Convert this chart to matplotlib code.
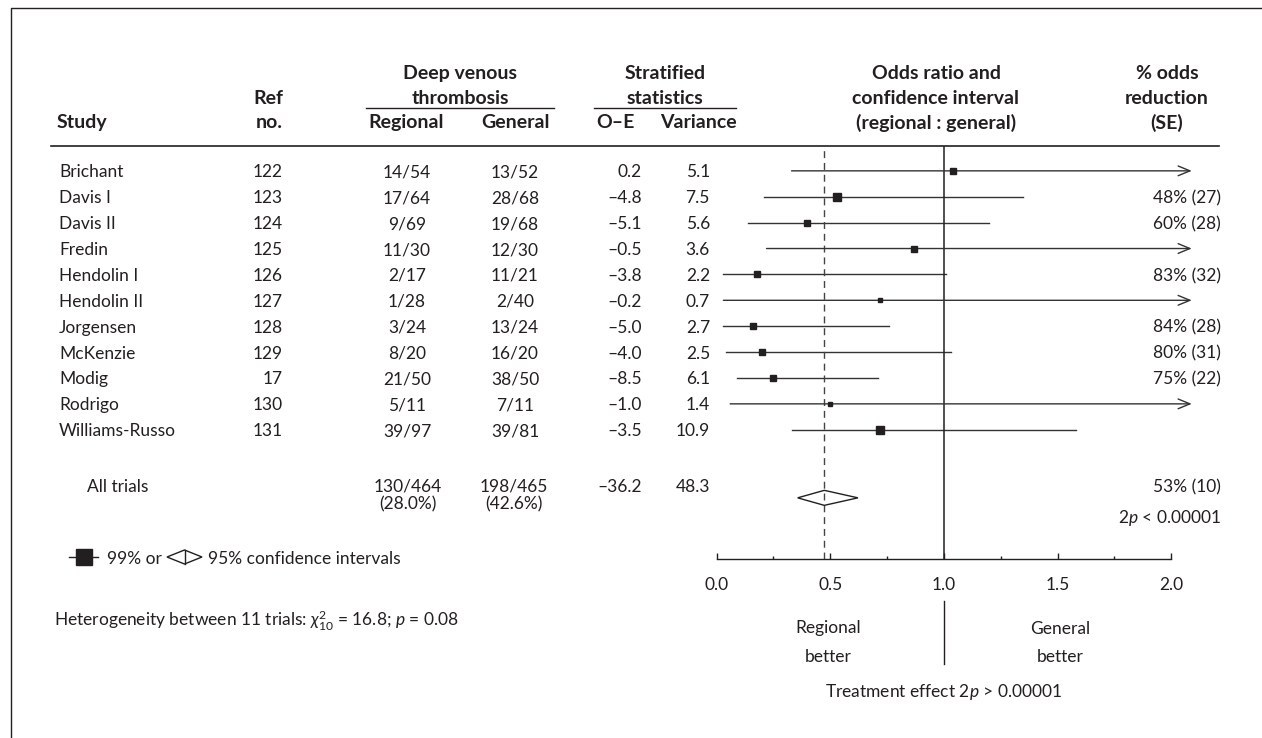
import numpy as np
import matplotlib
matplotlib.use("Agg")
import matplotlib.pyplot as plt
from matplotlib.patches import Polygon
from matplotlib.transforms import blended_transform_factory

plt.rcParams['font.family'] = ['Lato', 'DejaVu Sans']
plt.rcParams['mathtext.fontset'] = 'custom'
plt.rcParams['mathtext.rm'] = 'Lato'
plt.rcParams['mathtext.it'] = 'Lato:italic'
plt.rcParams['mathtext.bf'] = 'Lato:bold'

INK = '#231f20'
FS = 12.5
FS_HDR = 14

# trial data
studies = ['Brichant', 'Davis I', 'Davis II', 'Fredin', 'Hendolin I', 'Hendolin II',
           'Jorgensen', 'McKenzie', 'Modig', 'Rodrigo', 'Williams-Russo']
ref_no = ['122', '123', '124', '125', '126', '127', '128', '129', '17', '130', '131']
regional = ['14/54', '17/64', '9/69', '11/30', '2/17', '1/28', '3/24', '8/20', '21/50', '5/11', '39/97']
general = ['13/52', '28/68', '19/68', '12/30', '11/21', '2/40', '13/24', '16/20', '38/50', '7/11', '39/81']
o_minus_e = [0.2, -4.8, -5.1, -0.5, -3.8, -0.2, -5.0, -4.0, -8.5, -1.0, -3.5]
variance = [5.1, 7.5, 5.6, 3.6, 2.2, 0.7, 2.7, 2.5, 6.1, 1.4, 10.9]
odds_ratio = [1.04, 0.53, 0.40, 0.87, 0.18, 0.72, 0.16, 0.20, 0.25, 0.50, 0.72]
ci_low = [0.33, 0.21, 0.14, 0.22, 0.03, 0.03, 0.03, 0.04, 0.09, 0.06, 0.33]
ci_high = [3.25, 1.35, 1.20, 3.38, 1.01, 16.3, 0.76, 1.03, 0.71, 4.3, 1.58]
reduction = ['', '48% (27)', '60% (28)', '', '83% (32)', '', '84% (28)', '80% (31)', '75% (22)', '', '']

# pooled result
total_regional = ['130/464', '(28.0%)']
total_general = ['198/465', '(42.6%)']
total_o_minus_e = -36.2
total_variance = 48.3
pooled_or = 0.474
pooled_low = 0.357
pooled_high = 0.622
pooled_reduction = '53% (10)'

ARROW_END = 2.09


def dash(v):
    return f'{v:.1f}'.replace('-', '\u2013')


fig = plt.figure(figsize=(12.62, 7.38), dpi=100)
ax_t = fig.add_axes([0, 0, 1, 1])
ax_t.set_xlim(0, 1262)
ax_t.set_ylim(738, 0)
ax_t.axis('off')

ax_f = fig.add_axes([716.5 / 1262, 1 - 559.2 / 738, (1171.3 - 716.5) / 1262, (559.2 - 146) / 738])
ax_f.set_xlim(0, 2)
ax_f.set_ylim(15.0, -0.96)
ax_f.patch.set_alpha(0)
for s in ['top', 'left', 'right']:
    ax_f.spines[s].set_visible(False)
ax_f.spines['bottom'].set_color(INK)
ax_f.spines['bottom'].set_linewidth(1.0)
ax_f.set_xticks(np.arange(0, 2.01, 0.5))
ax_f.set_xticks(np.arange(0, 2.01, 0.25), minor=True)
ax_f.set_xticklabels(['0.0', '0.5', '1.0', '1.5', '2.0'])
ax_f.tick_params(axis='x', which='major', direction='in', length=4, width=1, color=INK,
                 labelsize=FS, labelcolor=INK, pad=13)
ax_f.tick_params(axis='x', which='minor', direction='in', length=2.2, width=1, color=INK)
ax_f.set_yticks([])

# page frame
ax_t.plot([11, 11, 1262], [738, 8, 8], color=INK, lw=1)

# header
hdr = dict(fontsize=FS_HDR, fontweight='bold', color=INK, va='center_baseline')
ax_t.text(57, 121, 'Study', ha='left', **hdr)
ax_t.text(283, 97, 'Ref', ha='right', **hdr)
ax_t.text(283, 121, 'no.', ha='right', **hdr)
ax_t.text(460, 72, 'Deep venous', ha='center', **hdr)
ax_t.text(460, 97, 'thrombosis', ha='center', **hdr)
ax_t.text(406, 121, 'Regional', ha='center', **hdr)
ax_t.text(515, 121, 'General', ha='center', **hdr)
ax_t.text(665, 72, 'Stratified', ha='center', **hdr)
ax_t.text(665, 97, 'statistics', ha='center', **hdr)
ax_t.text(615, 121, 'O\u2013E', ha='center', **hdr)
ax_t.text(698, 121, 'Variance', ha='center', **hdr)
ax_t.text(936, 72, 'Odds ratio and', ha='center', **hdr)
ax_t.text(936, 97, 'confidence interval', ha='center', **hdr)
ax_t.text(936, 121, '(regional : general)', ha='center', **hdr)
ax_t.text(1167, 72, '% odds', ha='center', **hdr)
ax_t.text(1167, 97, 'reduction', ha='center', **hdr)
ax_t.text(1167, 121, '(SE)', ha='center', **hdr)
ax_t.plot([366, 554], [108, 108], color=INK, lw=1)
ax_t.plot([594, 736], [108, 108], color=INK, lw=1)
ax_t.plot([51, 1219], [146, 146], color=INK, lw=1.2)

# table body, x in pixels, y in row units of the forest axes
tr = blended_transform_factory(ax_t.transData, ax_f.transData)
cell = dict(fontsize=FS, color=INK, va='center_baseline', transform=tr)
rows = np.arange(len(studies))
for i in rows:
    ax_t.text(59, i, studies[i], ha='left', **cell)
    ax_t.text(283, i, ref_no[i], ha='right', **cell)
    ax_t.text(407, i, regional[i], ha='center', **cell)
    ax_t.text(515, i, general[i], ha='center', **cell)
    ax_t.text(642, i, dash(o_minus_e[i]), ha='right', **cell)
    ax_t.text(710, i, f'{variance[i]:.1f}', ha='right', **cell)
    ax_t.text(1221, i, reduction[i], ha='right', **cell)

y_all = 12.15
y_all2 = 12.83
y_diamond = 12.63
ax_t.text(87, y_all, 'All trials', ha='left', **cell)
ax_t.text(408, y_all, total_regional[0], ha='center', **cell)
ax_t.text(408, y_all2, total_regional[1], ha='center', **cell)
ax_t.text(514, y_all, total_general[0], ha='center', **cell)
ax_t.text(514, y_all2, total_general[1], ha='center', **cell)
ax_t.text(642, y_all, dash(total_o_minus_e), ha='right', **cell)
ax_t.text(710, y_all, f'{total_variance:.1f}', ha='right', **cell)
ax_t.text(1221, y_all, pooled_reduction, ha='right', **cell)
ax_t.text(1221, 13.33, r'2$p$ < 0.00001', ha='right', **cell)

# forest plot
ax_f.axvline(1.0, color=INK, lw=1.1, zorder=3)
ax_f.axvline(pooled_or, color='#444444', lw=1.0, dashes=(5, 3.5), zorder=3)
for i in rows:
    if ci_high[i] > 2:
        ax_f.annotate('', xy=(ARROW_END, i), xytext=(ci_low[i], i), annotation_clip=False,
                      arrowprops=dict(arrowstyle='->,head_length=0.85,head_width=0.35',
                                      color='#333333', lw=1.0, shrinkA=0, shrinkB=0))
    else:
        ax_f.plot([ci_low[i], ci_high[i]], [i, i], color='#333333', lw=1.0)
    side = 2.2 + 1.9 * np.sqrt(variance[i])
    ax_f.plot(odds_ratio[i], i, marker='s', ms=side * 0.72, color=INK, mec=INK, zorder=4)

h = 0.29
ax_f.add_patch(Polygon([(pooled_low, y_diamond), (pooled_or, y_diamond - h),
                        (pooled_high, y_diamond), (pooled_or, y_diamond + h)],
                       closed=True, fill=False, ec=INK, lw=1.0, zorder=4))

# effect direction labels below the axis
tb = blended_transform_factory(ax_f.transData, ax_t.transData)
lab = dict(fontsize=FS, color=INK, va='center_baseline', ha='center', transform=tb)
ax_t.plot([1.0, 1.0], [601, 664], color=INK, lw=1.0, transform=tb)
ax_t.text(0.49, 627, 'Regional', **lab)
ax_t.text(0.49, 655, 'better', **lab)
ax_t.text(1.51, 627, 'General', **lab)
ax_t.text(1.51, 655, 'better', **lab)
ax_t.text(1.0, 690, r'Treatment effect 2$p$ > 0.00001', **lab)

# key
ax_t.plot([69, 98], [557, 557], color=INK, lw=1.0)
ax_t.plot(84, 557, marker='s', ms=16 * 0.72, color=INK)
ax_t.text(107, 557, '99% or', ha='left', fontsize=FS, color=INK, va='center_baseline')
ax_t.add_patch(Polygon([(167, 557), (184.5, 550), (202, 557), (184.5, 564)],
                       closed=True, fill=False, ec=INK, lw=1.0))
ax_t.plot([184.5, 184.5], [550, 564], color=INK, lw=1.0)
ax_t.text(208, 557, '95% confidence intervals', ha='left', fontsize=FS, color=INK,
          va='center_baseline')

ax_t.text(54, 618, r'Heterogeneity between 11 trials: $\chi^2_{10}$ = 16.8; $p$ = 0.08',
          ha='left', fontsize=FS, color=INK, va='center_baseline')

fig.savefig('out.png', dpi=100)
